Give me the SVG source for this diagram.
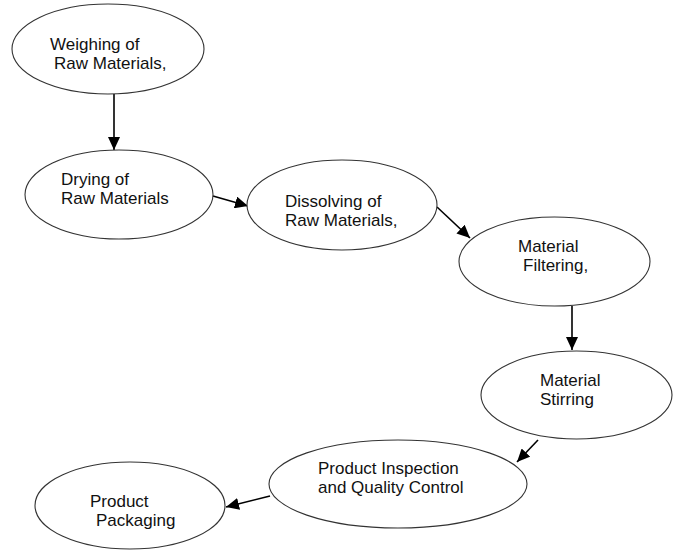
<svg xmlns="http://www.w3.org/2000/svg" width="681" height="550" viewBox="0 0 681 550">
<defs>
<style>
.n{fill:#fff;stroke:#333;stroke-width:1.1}
.t{font-family:"Liberation Sans",Arial,sans-serif;font-size:17px;fill:#111}
.c{stroke:#000;stroke-width:1.6;fill:none}
</style>
<marker id="ah" markerUnits="userSpaceOnUse" markerWidth="14" markerHeight="12" refX="13" refY="6" orient="auto">
<path d="M0,0 L13,6 L0,12 Z" fill="#000"/>
</marker>
</defs>
<rect width="681" height="550" fill="#fff"/>
<g id="connectors">
<line class="c" x1="114" y1="94" x2="114" y2="150" marker-end="url(#ah)"/>
<line class="c" x1="213" y1="196" x2="248" y2="206" marker-end="url(#ah)"/>
<line class="c" x1="437" y1="207" x2="470" y2="238" marker-end="url(#ah)"/>
<line class="c" x1="572" y1="306" x2="572" y2="350" marker-end="url(#ah)"/>
<line class="c" x1="538" y1="440" x2="517" y2="462" marker-end="url(#ah)"/>
<line class="c" x1="270" y1="496" x2="226" y2="507" marker-end="url(#ah)"/>
</g>
<g id="n1"><ellipse class="n" cx="108" cy="49" rx="96" ry="45"/>
<text class="t" x="50" y="50">Weighing of</text><text class="t" x="54" y="69">Raw Materials,</text></g>
<g id="n2"><ellipse class="n" cx="119" cy="194.5" rx="94" ry="44.5"/>
<text class="t" x="61" y="185">Drying of</text><text class="t" x="61" y="204">Raw Materials</text></g>
<g id="n3"><ellipse class="n" cx="342" cy="205" rx="95" ry="45"/>
<text class="t" x="285" y="207">Dissolving of</text><text class="t" x="285" y="226">Raw Materials,</text></g>
<g id="n4"><ellipse class="n" cx="554.5" cy="261.5" rx="95.5" ry="44.5"/>
<text class="t" x="518" y="252">Material</text><text class="t" x="523" y="271">Filtering,</text></g>
<g id="n5"><ellipse class="n" cx="576.5" cy="395" rx="95.5" ry="44"/>
<text class="t" x="540" y="386">Material</text><text class="t" x="540" y="405">Stirring</text></g>
<g id="n6"><ellipse class="n" cx="398" cy="484" rx="129" ry="44"/>
<text class="t" x="318" y="474">Product Inspection</text><text class="t" x="318" y="493">and Quality Control</text></g>
<g id="n7"><ellipse class="n" cx="130" cy="505.5" rx="95" ry="43.5"/>
<text class="t" x="90" y="507">Product</text><text class="t" x="96" y="526">Packaging</text></g>
</svg>
